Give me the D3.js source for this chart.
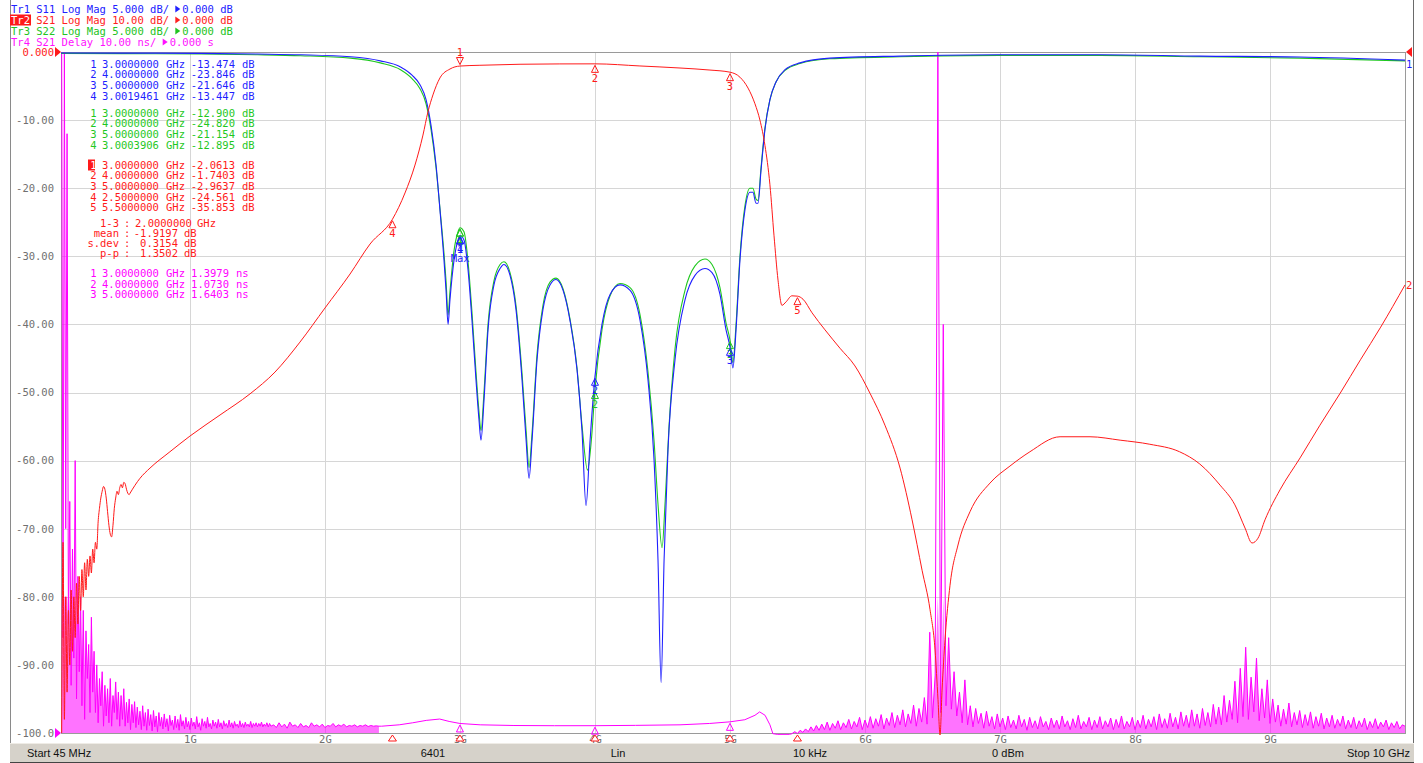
<!DOCTYPE html>
<html>
<head>
    <meta charset="utf-8">
    <script src="https://cdn.jsdelivr.net/npm/d3@7"></script>
    <style>
        body { margin: 0; background: #ffffff; }
        svg { display: block; }
        .mono { font-family: "DejaVu Sans Mono", "Liberation Mono", monospace; font-size: 10.5px; }
        .status { font-family: "Liberation Sans", Arial, sans-serif; font-size: 11px; fill: #111; }
        .grid line { stroke: #d6d6d6; stroke-width: 1; shape-rendering: crispEdges; }
        .grid .domain { display: none; }
        .ylab text, .xlab text { fill: #707070; }
        .ylab .domain, .xlab .domain { display: none; }
    </style>
</head>
<body>
    <svg id="chart"></svg>
    <script>
        // ---- sweep / axes ----
        const startGHz = 0.045;
        const stopGHz = 10;
        const freqTicks = [1, 2, 3, 4, 5, 6, 7, 8, 9];
        const yTicks = [0, -10, -20, -30, -40, -50, -60, -70, -80, -90, -100];
        const yTickLabels = ["0.000", "-10.00", "-20.00", "-30.00", "-40.00", "-50.00",
                             "-60.00", "-70.00", "-80.00", "-90.00", "-100.0"];

        // ---- Tr1 S11 (dB) [GHz, dB] ----
        const s11Points = [[0.045,-0.07],[0.5,-0.08],[1.07,-0.1],[1.5,-0.15],[1.82,-0.2],[2.19,-0.35],[2.41,-0.65],
            [2.56,-1.1],[2.645,-1.7],[2.704,-2.4],[2.749,-3.5],[2.786,-5.4],[2.823,-8.3],[2.852,-11.6],[2.882,-15.3],
            [2.897,-17.5],[2.912,-20.0],[2.926,-18.2],[2.956,-15.3],[2.986,-13.8],[3.0,-13.47],[3.03,-13.8],[3.06,-16.0],
            [3.089,-19.7],[3.119,-24.1],[3.141,-27.0],[3.156,-28.5],[3.178,-25.6],[3.208,-20.4],[3.252,-17.1],[3.297,-15.9],
            [3.326,-15.6],[3.371,-16.4],[3.415,-18.9],[3.46,-24.1],[3.49,-28.5],[3.512,-31.3],[3.534,-28.5],[3.571,-22.6],
            [3.615,-18.9],[3.667,-17.1],[3.712,-16.7],[3.764,-17.5],[3.815,-19.7],[3.867,-23.3],[3.904,-27.8],[3.934,-33.3],
            [3.964,-28.5],[4.0,-23.85],[4.052,-20.0],[4.112,-17.8],[4.186,-17.1],[4.26,-17.5],[4.334,-19.7],[4.393,-24.1],
            [4.438,-30.0],[4.467,-37.3],[4.49,-46.3],[4.512,-37.3],[4.541,-29.2],[4.593,-22.6],[4.667,-18.2],[4.741,-16.4],
            [4.815,-15.9],[4.867,-16.2],[4.926,-17.8],[4.971,-20.4],[5.0,-21.65],[5.022,-23.2],[5.045,-20.4],[5.074,-15.3],
            [5.111,-11.6],[5.148,-10.3],[5.17,-10.3],[5.193,-11.1],[5.208,-11.1],[5.23,-8.7],[5.259,-5.7],[5.296,-3.5],
            [5.341,-2.2],[5.408,-1.3],[5.519,-0.8],[5.74,-0.45],[6.26,-0.3],[7.0,-0.2],[7.74,-0.2],[8.48,-0.3],[9.22,-0.37],[10.0,-0.6]];

        // ---- Tr3 S22 (dB) ----
        const s22Points = [[0.045,-0.1],[0.5,-0.12],[1.07,-0.15],[1.5,-0.2],[1.82,-0.27],[2.19,-0.45],[2.41,-0.8],
            [2.56,-1.3],[2.645,-1.95],[2.704,-2.7],[2.749,-3.8],[2.786,-5.7],[2.823,-8.5],[2.852,-11.5],[2.882,-14.8],
            [2.897,-16.8],[2.912,-19.3],[2.926,-17.6],[2.956,-14.6],[2.986,-13.2],[3.0,-12.9],[3.03,-13.2],[3.06,-15.4],
            [3.089,-19.1],[3.119,-23.5],[3.141,-26.4],[3.156,-27.8],[3.178,-25.0],[3.208,-20.0],[3.252,-16.8],[3.297,-15.6],
            [3.326,-15.4],[3.371,-16.2],[3.415,-18.6],[3.46,-23.6],[3.49,-27.8],[3.512,-30.5],[3.534,-28.0],[3.571,-22.2],
            [3.615,-18.6],[3.667,-16.9],[3.712,-16.6],[3.764,-17.4],[3.815,-19.6],[3.867,-23.2],[3.904,-27.4],[3.945,-30.7],
            [3.975,-28.3],[4.0,-24.82],[4.052,-20.4],[4.112,-17.9],[4.186,-17.0],[4.26,-17.3],[4.334,-19.3],[4.393,-23.5],
            [4.438,-28.6],[4.467,-33.2],[4.497,-36.4],[4.52,-33.0],[4.548,-27.6],[4.593,-21.8],[4.667,-17.5],[4.741,-15.7],
            [4.815,-15.2],[4.867,-15.6],[4.926,-17.3],[4.971,-19.9],[5.0,-21.15],[5.022,-22.8],[5.045,-20.0],[5.074,-15.0],
            [5.111,-11.3],[5.148,-10.0],[5.17,-10.0],[5.193,-10.8],[5.208,-10.9],[5.23,-8.5],[5.259,-5.6],[5.296,-3.5],
            [5.341,-2.2],[5.408,-1.35],[5.519,-0.85],[5.74,-0.5],[6.26,-0.35],[7.0,-0.25],[7.74,-0.25],[8.48,-0.35],[9.22,-0.45],[10.0,-0.65]];

        // ---- Tr2 S21 (dB): noisy low end, 0.05 GHz step 0.01 ----
        const s21NoiseStart = 0.05;
        const s21NoiseStep = 0.01;
        const s21NoiseDb = [-100,-72,-98,-80,-94,-82,-90,-79,-88,-80,
            -86,-78,-84,-77,-82,-76,-80,-75,-79,-74.5,
            -77,-74,-76.5,-73,-75,-72,-73,-69,-67,-65.5,
            -64.5,-63.8,-64.2,-65.5,-67.5,-69.5,-70.8,-71.2,-69.5,-67,
            -65.5,-64.5,-65,-64,-63.5,-64,-63.2,-63.4,-64.2,-64.8,-65.0];
        const s21Points = [[0.556,-64.8],[0.63,-62.6],[0.704,-61.1],[0.852,-58.7],[1.0,-56.4],[1.223,-53.3],[1.445,-50.2],
            [1.63,-47.0],[1.815,-42.6],[2.0,-37.6],[2.186,-32.6],[2.334,-28.2],[2.5,-24.561],[2.593,-20.7],[2.667,-16.6],
            [2.726,-12.2],[2.763,-8.8],[2.8,-6.3],[2.852,-3.8],[2.926,-2.5],[3.0,-2.0613],[3.148,-1.95],[3.445,-1.8],
            [3.74,-1.75],[4.0,-1.7403],[4.333,-2.05],[4.63,-2.35],[4.852,-2.65],[5.0,-2.9637],[5.074,-3.7],[5.134,-5.3],
            [5.185,-7.6],[5.222,-10.0],[5.259,-13.7],[5.296,-19.5],[5.326,-26.9],[5.356,-33.5],[5.385,-37.2],[5.415,-36.7],
            [5.459,-35.8],[5.5,-35.853],[5.541,-36.3],[5.608,-38.3],[5.704,-40.8],[5.815,-43.5],[5.926,-46.1],[6.037,-50.1],
            [6.148,-54.8],[6.26,-61.1],[6.349,-68.7],[6.423,-76.1],[6.482,-81.9],[6.519,-87.8],[6.541,-95.1],[6.556,-100.3],
            [6.571,-93.7],[6.593,-86.3],[6.63,-78.3],[6.689,-72.4],[6.778,-67.5],[6.926,-63.3],[7.074,-60.8],[7.222,-58.7],
            [7.445,-56.5],[7.667,-56.5],[7.89,-57.0],[8.11,-57.6],[8.33,-58.7],[8.48,-60.5],[8.63,-63.6],[8.74,-66.5],
            [8.815,-69.9],[8.867,-72.1],[8.911,-71.4],[8.963,-68.7],[9.074,-64.3],[9.223,-59.6],[9.37,-54.8],[9.52,-50.1],
            [9.67,-45.2],[9.82,-40.4],[10.0,-34.2]];

        // ---- Tr4 S21 group delay (ns) ----
        const delayLowStart = 0.05;
        const delayLowStep = 0.01;
        const delayLowNs = [100,14,100,30,88,
            16,34,7,27,11,40,5,23,9,20,
            4,18,2,15,8,13,3,17,6,12,
            3,10,1.5,8,4,9,1,7,2.5,6.5,
            1.5,8,1,5.5,3,7.5,2,6,1,5.5,
            2,6.5,1,4.5,1.5,5,0.5,4.2,1.5,4.6,
            0.8,3.8,1.2,3.2,0.5,4.0,1.0,3.0,0.4,3.5,
            1.1,2.7,0.3,3.3,0.9,2.5,0.2,3.0,1.0,2.3,
            0.6,2.8,0.9,2.1,0.3,2.6,1.1,1.9,0.5,2.5,
            0.8,2.0,0.4,2.7,1.0,1.8,0.6,2.3,0.9,1.7,
            0.5,2.2,1.0,1.6,0.6,2.4,0.9,1.5,0.4,2.1,
            1.0,1.7,0.7,2.3,0.9,1.4,0.6,1.9,1.0,1.6,
            0.7,2.0,0.9,1.5,0.6,1.8,1.0,1.4,0.8,1.9,
            0.9,1.5,0.7,1.7,1.0,1.3,0.8,1.8,0.9,1.4,
            0.8,1.6,1.0,1.3,0.9,1.7,0.8,1.4,1.0,1.5,
            0.9,1.4,1.0,1.6,0.9,1.3,1.0,1.5,0.9,1.4,
            1.0];
        const delayMidStart = 1.62;
        const delayMidStep = 0.02;
        const delayMidNs = [1.2,0.8,1.5,0.9,1.3,0.7,1.6,1.0,1.2,0.8,
            1.4,0.9,1.1,0.8,1.5,1.0,1.2,0.9,1.3,0.8,
            1.1,1.0,1.4,0.9,1.2,1.0,1.3,0.9,1.1,1.0,
            1.2,0.9,1.1,1.0,1.2,0.95,1.1,1.0,1.05,1.0];
        const delayBandPoints = [[2.42,1.0],[2.55,1.2],[2.65,1.5],[2.75,1.85],[2.85,2.05],[2.92,1.7],[3.0,1.3979],
            [3.15,1.2],[3.4,1.1],[3.7,1.07],[4.0,1.073],[4.3,1.12],[4.63,1.2],[4.85,1.4],[5.0,1.6403],[5.11,1.95],
            [5.185,2.6],[5.22,3.1],[5.26,2.6],[5.296,1.2],[5.318,-0.1],[5.35,-0.2],[5.44,-0.2]];
        const delayHighStart = 5.46;
        const delayHighStep = 0.02;
        const delayHighNs = [-0.1,0.2,-0.1,0.4,0.1,0.6,0.2,0.9,0.3,1.1,
            0.4,1.3,0.5,1.6,0.4,1.4,0.7,1.8,0.5,1.5,
            0.8,2.0,0.6,1.7,0.9,2.3,0.5,1.9,0.8,2.4,
            0.7,2.1,1.0,2.7,0.6,2.2,1.1,3.0,0.8,2.6,
            1.2,3.4,0.9,2.8,1.4,4.1,1.0,3.6,1.6,5.2,
            1.3,14.8,2.2,8.5,100,3.0,60,4.0,14.0,3.5,
            9.0,2.5,6.0,1.5,7.8,1.2,4.0,0.9,3.6,1.4,
            2.9,0.7,3.2,1.0,2.4,0.6,2.8,0.9,2.2,0.5,
            2.5,0.8,1.9,0.6,2.6,0.9,2.0,0.4,2.3,0.8,
            1.8,0.6,2.4,0.9,1.7,0.5,2.2,0.8,1.9,0.6,
            2.5,0.9,1.8,0.5,2.1,0.8,2.6,0.6,1.7,0.9,
            2.3,0.5,1.9,0.8,2.4,0.6,1.8,0.9,2.2,0.5,
            2.0,0.8,2.5,0.6,1.7,0.9,2.3,0.5,1.9,0.8,
            2.6,0.6,2.0,0.9,2.4,0.5,2.8,0.8,2.1,0.7,
            2.9,0.9,2.3,0.6,3.1,1.0,2.6,0.8,3.4,1.0,
            2.8,0.7,3.6,1.1,3.0,0.9,4.2,1.3,3.8,1.2,
            5.5,1.6,4.8,2.0,7.6,1.5,9.5,2.4,12.6,2.0,
            8.2,3.1,11.0,1.8,6.5,2.2,7.8,1.4,5.0,1.6,
            4.1,1.0,3.5,1.3,4.4,0.9,3.0,1.2,3.3,0.8,
            2.7,1.1,3.1,0.7,2.4,1.0,2.9,0.6,2.2,0.9,
            2.6,0.7,2.0,1.0,2.5,0.6,1.9,0.8,2.3,0.6,
            1.8,0.9,2.2,0.5,1.7,0.8,2.1,0.6,1.6,0.9,
            1.9,0.5,1.5,0.8,1.7,0.6,1.2,1.0];

        // ---- markers ----
        const s11Markers = [{id: "1", f: 3.0, v: -13.474}, {id: "2", f: 4.0, v: -23.846},
                            {id: "3", f: 5.0, v: -21.646}, {id: "4", f: 3.0019461, v: -13.447}];
        const s22Markers = [{id: "1", f: 3.0, v: -12.900}, {id: "2", f: 4.0, v: -24.820},
                            {id: "3", f: 5.0, v: -21.154}, {id: "4", f: 3.0003906, v: -12.895}];
        const s21Markers = [{id: "1", f: 3.0, v: -2.0613}, {id: "2", f: 4.0, v: -1.7403},
                            {id: "3", f: 5.0, v: -2.9637}, {id: "4", f: 2.5, v: -24.561},
                            {id: "5", f: 5.5, v: -35.853}];
        const delayMarkers = [{id: "1", f: 3.0, v: 1.3979}, {id: "2", f: 4.0, v: 1.0730},
                              {id: "3", f: 5.0, v: 1.6403}];
        const statLabels = ["1-3", "mean", "s.dev", "p-p"];
        const statValues = ["2.0000000", "-1.9197", "0.3154", "1.3502"];
        const statUnits = ["GHz", "dB", "dB", "dB"];

        const headerLines = [
            {tr: "Tr1", rest: " S11 Log Mag 5.000 dB/", ref: "0.000 dB", color: "#2121ff"},
            {tr: "Tr2", rest: " S21 Log Mag 10.00 dB/", ref: "0.000 dB", color: "#ff2020", active: true},
            {tr: "Tr3", rest: " S22 Log Mag 5.000 dB/", ref: "0.000 dB", color: "#22c322"},
            {tr: "Tr4", rest: " S21 Delay 10.00 ns/", ref: "0.000 s", color: "#ff10ff"}
        ];
        const statusItems = [
            {text: "Start 45 MHz", x: 27, anchor: "start"},
            {text: "6401", x: 433, anchor: "middle"},
            {text: "Lin", x: 618, anchor: "middle"},
            {text: "10 kHz", x: 810, anchor: "middle"},
            {text: "0 dBm", x: 1008, anchor: "middle"},
            {text: "Stop 10 GHz", x: 1410, anchor: "end"}
        ];

        const blue = "#1f1fff", red = "#ff1a1a", green = "#1fc81f", magenta = "#ff00ff";

        const width = 1423, height = 763;
        const plotLeft = 61, plotRight = 1405, plotTop = 52, plotBottom = 733;

        const svg = d3.select("#chart").attr("width", width).attr("height", height);

        const x = d3.scaleLinear().domain([startGHz, stopGHz]).range([plotLeft, plotRight]);
        const yS21 = d3.scaleLinear().domain([-100, 0]).range([plotBottom, plotTop]);
        const yS11 = d3.scaleLinear().domain([-50, 0]).range([plotBottom, plotTop]);
        const yDelay = d3.scaleLinear().domain([0, 100]).range([plotBottom, plotTop]);

        const sweep = (start, step, vals) => vals.map((v, i) => [start + i * step, v]);
        const fmt5 = v => v.toPrecision(5);

        // window frame
        svg.append("rect").attr("x", 0).attr("y", 0).attr("width", width).attr("height", height).attr("fill", "#fff");
        svg.append("line").attr("x1", 10.5).attr("x2", 10.5).attr("y1", 0).attr("y2", 763)
            .attr("stroke", "#8a8a8a");
        svg.append("line").attr("x1", 1413.5).attr("x2", 1413.5).attr("y1", 0).attr("y2", 763)
            .attr("stroke", "#6a6a6a");

        // grid
        svg.append("g").attr("class", "grid")
            .attr("transform", `translate(${plotLeft},0)`)
            .call(d3.axisLeft(yS21).tickValues(yTicks).tickSize(-(plotRight - plotLeft)).tickFormat(""));
        svg.append("g").attr("class", "grid")
            .attr("transform", `translate(0,${plotBottom})`)
            .call(d3.axisBottom(x).tickValues(freqTicks).tickSize(-(plotBottom - plotTop)).tickFormat(""));

        // plot border
        svg.append("rect").attr("x", plotLeft + 0.5).attr("y", plotTop + 0.5)
            .attr("width", plotRight - plotLeft).attr("height", plotBottom - plotTop)
            .attr("fill", "none").attr("stroke", "#9a9a9a");

        // y labels
        const yl = svg.append("g").attr("class", "ylab mono")
            .attr("transform", `translate(${plotLeft},0)`)
            .call(d3.axisLeft(yS21).tickValues(yTicks).tickSize(0).tickPadding(7)
                .tickFormat((d, i) => yTickLabels[i]));
        yl.selectAll("text").attr("font-family", null).attr("font-size", null)
            .style("fill", d => d === 0 ? red : "#707070");

        // x labels
        const xl = svg.append("g").attr("class", "xlab mono")
            .attr("transform", `translate(0,${plotBottom})`)
            .call(d3.axisBottom(x).tickValues(freqTicks).tickSize(0).tickPadding(3).tickFormat(d => d + "G"));
        xl.selectAll("text").attr("font-family", null).attr("font-size", null);

        // traces
        svg.append("clipPath").attr("id", "plotclip").append("rect")
            .attr("x", plotLeft).attr("y", plotTop - 1)
            .attr("width", plotRight - plotLeft + 1).attr("height", plotBottom - plotTop + 3);
        const traces = svg.append("g").attr("clip-path", "url(#plotclip)");

        const delayLowNoise = sweep(delayLowStart, delayLowStep, delayLowNs)
            .concat(sweep(delayMidStart, delayMidStep, delayMidNs));
        const delayHighNoise = sweep(delayHighStart, delayHighStep, delayHighNs);
        const delayData = delayLowNoise.concat(delayBandPoints).concat(delayHighNoise);
        const s21Data = sweep(s21NoiseStart, s21NoiseStep, s21NoiseDb).concat(s21Points);

        const yDelayClip = v => Math.max(plotTop, Math.min(plotBottom + 2, yDelay(v)));
        // dense noise fill (the 6401 point trace looks like a filled band); tall spikes stay thin lines
        const noiseArea = d3.area().x(d => x(d[0])).y0(plotBottom)
            .y1(d => Math.min(plotBottom, Math.max(yDelay(20), yDelay(d[1]))));
        [delayLowNoise, delayHighNoise].forEach(seg => {
            traces.append("path").datum(seg).attr("d", noiseArea)
                .attr("fill", magenta).attr("fill-opacity", 0.55).attr("stroke", "none");
        });
        traces.append("path").datum(delayData)
            .attr("d", d3.line().x(d => x(d[0])).y(d => yDelayClip(d[1])))
            .attr("fill", "none").attr("stroke", magenta).attr("stroke-width", 1);
        traces.append("path").datum(s22Points)
            .attr("d", d3.line().x(d => x(d[0])).y(d => yS11(d[1])).curve(d3.curveMonotoneX))
            .attr("fill", "none").attr("stroke", green).attr("stroke-width", 1.1);
        traces.append("path").datum(s11Points)
            .attr("d", d3.line().x(d => x(d[0])).y(d => yS11(d[1])).curve(d3.curveMonotoneX))
            .attr("fill", "none").attr("stroke", blue).attr("stroke-width", 1.1);
        traces.append("path").datum(s21Data)
            .attr("d", d3.line().x(d => x(d[0])).y(d => Math.min(plotBottom + 2, yS21(d[1]))).curve(d3.curveMonotoneX))
            .attr("fill", "none").attr("stroke", red).attr("stroke-width", 1);

        // trace markers
        const mk = svg.append("g").attr("class", "mono");
        function marker(px, py, id, color, above, showId = true) {
            const dir = above ? -1 : 1;
            mk.append("path")
                .attr("d", `M${px},${py + dir * 1.5} L${px - 3.5},${py + dir * 8.5} L${px + 3.5},${py + dir * 8.5} Z`)
                .attr("fill", "none").attr("stroke", color).attr("stroke-width", 1);
            if (showId) {
                mk.append("text").attr("x", px).attr("y", py + dir * 14).attr("dy", "0.35em")
                    .attr("text-anchor", "middle").attr("fill", color).text(id);
            }
        }
        s22Markers.forEach(m => marker(x(m.f), yS11(m.v), m.id, green, false));
        s11Markers.forEach(m => marker(x(m.f), yS11(m.v), m.id, blue, false));
        mk.append("text").attr("x", x(s11Markers[3].f)).attr("y", yS11(s11Markers[3].v) + 23)
            .attr("dy", "0.35em").attr("text-anchor", "middle").attr("fill", blue).text("Max");
        // delay marker numbers fall under the frequency labels, only the triangles show
        delayMarkers.forEach(m => marker(x(m.f), yDelay(m.v), m.id, magenta, false, false));
        s21Markers.forEach((m, i) => marker(x(m.f), yS21(m.v), m.id, red, i === 0));

        // marker position indicators under the grid
        s21Markers.forEach(m => {
            const px = x(m.f);
            mk.append("path").attr("d", `M${px},${plotBottom + 2} L${px - 4},${plotBottom + 8} L${px + 4},${plotBottom + 8} Z`)
                .attr("fill", "#fff").attr("stroke", red);
        });

        // reference arrows and trace tags
        const tri = (px, py, dir, color) => svg.append("path")
            .attr("d", `M${px},${py - 5} L${px + dir * 6},${py} L${px},${py + 5} Z`).attr("fill", color);
        tri(55, plotTop, 1, red);
        tri(55, plotBottom, 1, magenta);
        tri(1412, plotTop, -1, red);
        svg.append("text").attr("class", "mono").attr("x", 1406).attr("y", yS11(s11Points[s11Points.length - 1][1]) + 4)
            .attr("dy", "0.35em").attr("fill", blue).text("1");
        svg.append("text").attr("class", "mono").attr("x", 1406).attr("y", yS21(s21Points[s21Points.length - 1][1]))
            .attr("dy", "0.35em").attr("fill", red).text("2");

        // header
        const hdr = svg.append("g").attr("class", "mono");
        headerLines.forEach((h, i) => {
            const yy = 9 + i * 11;
            const w = h.rest.length + 3;
            if (h.active) {
                hdr.append("rect").attr("x", 10).attr("y", yy - 5.5).attr("width", 21).attr("height", 11).attr("fill", red);
            }
            hdr.append("text").attr("x", 11).attr("y", yy).attr("dy", "0.35em").attr("xml:space", "preserve")
                .attr("fill", h.color)
                .call(t => t.append("tspan").attr("fill", h.active ? "#fff" : h.color).text(h.tr))
                .call(t => t.append("tspan").text(h.rest));
            const ax = 11 + (w + 1) * 6.32;
            hdr.append("path").attr("d", `M${ax},${yy - 3.5} L${ax + 5},${yy} L${ax},${yy + 3.5} Z`).attr("fill", h.color);
            hdr.append("text").attr("x", ax + 7).attr("y", yy).attr("dy", "0.35em").attr("fill", h.color).text(h.ref);
        });

        // marker readout tables
        const tbl = svg.append("g").attr("class", "mono");
        function readout(list, y0, color, unit, valEnd, unitX, boxFirst) {
            list.forEach((m, i) => {
                const yy = y0 + i * 10.7;
                const row = tbl.append("g").attr("fill", color);
                if (boxFirst && i === 0) {
                    row.append("rect").attr("x", 88).attr("y", yy - 5.5).attr("width", 7).attr("height", 11).attr("fill", color);
                }
                row.append("text").attr("x", 93.5).attr("y", yy).attr("dy", "0.35em").attr("text-anchor", "middle")
                    .attr("fill", boxFirst && i === 0 ? "#fff" : color).text(m.id);
                row.append("text").attr("x", 102).attr("y", yy).attr("dy", "0.35em").text(m.f.toFixed(7));
                row.append("text").attr("x", 166).attr("y", yy).attr("dy", "0.35em").text("GHz");
                row.append("text").attr("x", valEnd).attr("y", yy).attr("dy", "0.35em").attr("text-anchor", "end").text(fmt5(m.v));
                row.append("text").attr("x", unitX).attr("y", yy).attr("dy", "0.35em").text(unit);
            });
        }
        readout(s11Markers, 64, blue, "dB", 235, 242, false);
        readout(s22Markers, 113, green, "dB", 235, 242, false);
        readout(s21Markers, 165, red, "dB", 235, 242, true);
        readout(delayMarkers, 273.3, magenta, "ns", 229, 236, false);

        statLabels.forEach((s, i) => {
            const yy = 223.3 + i * 10;
            const row = tbl.append("g").attr("fill", red);
            row.append("text").attr("x", 119).attr("y", yy).attr("dy", "0.35em").attr("text-anchor", "end").text(s);
            row.append("text").attr("x", 124).attr("y", yy).attr("dy", "0.35em").text(":");
            if (i === 0) {
                row.append("text").attr("x", 135).attr("y", yy).attr("dy", "0.35em").text(statValues[i]);
                row.append("text").attr("x", 197).attr("y", yy).attr("dy", "0.35em").text(statUnits[i]);
            } else {
                row.append("text").attr("x", 178).attr("y", yy).attr("dy", "0.35em")
                    .attr("text-anchor", "end").text(statValues[i]);
                row.append("text").attr("x", 184).attr("y", yy).attr("dy", "0.35em").text(statUnits[i]);
            }
        });

        // status bar
        svg.append("rect").attr("x", 10).attr("y", 743).attr("width", 1404).attr("height", 20).attr("fill", "#d6d2ca");
        svg.append("line").attr("x1", 10).attr("x2", 1414).attr("y1", 743.5).attr("y2", 743.5).attr("stroke", "#efece6");
        svg.append("line").attr("x1", 10).attr("x2", 1414).attr("y1", 762.5).attr("y2", 762.5).attr("stroke", "#444");
        svg.selectAll(".statustext").data(statusItems).join("text")
            .attr("class", "status statustext")
            .attr("x", d => d.x).attr("y", 757)
            .attr("text-anchor", d => d.anchor)
            .text(d => d.text);
    </script>
</body>
</html>
